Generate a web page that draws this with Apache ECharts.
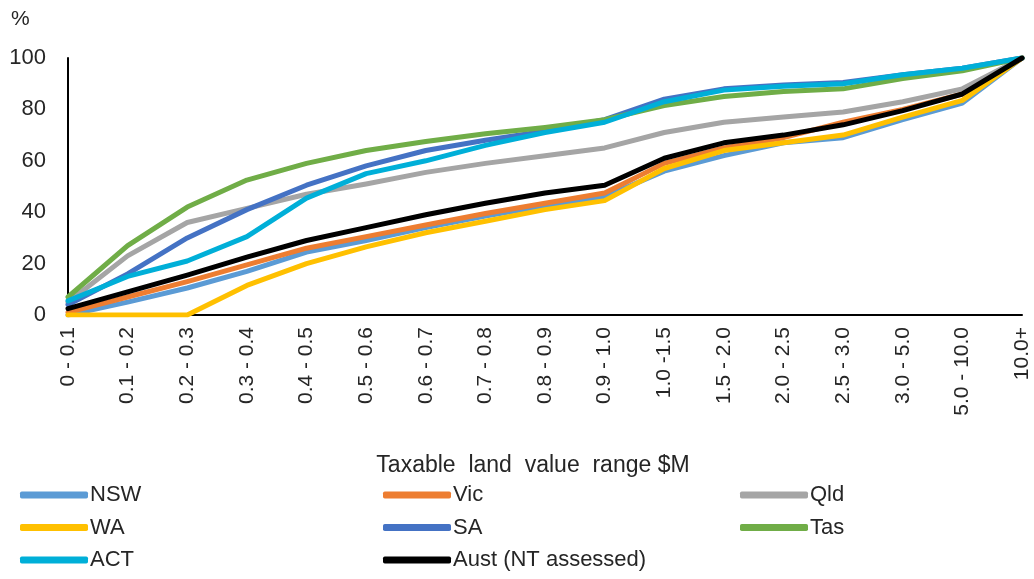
<!DOCTYPE html>
<html>
<head>
<meta charset="utf-8">
<script src="https://cdn.jsdelivr.net/npm/echarts@6/dist/echarts.min.js"></script>
<style>
  html, body { margin: 0; padding: 0; background: #fff; }
  #chart { width: 1034px; height: 579px; }
</style>
</head>
<body>
<div id="chart"></div>
<script>
// Cumulative share (%) of taxable land by land value range, per jurisdiction
const categories = ['0 - 0.1', '0.1 - 0.2', '0.2 - 0.3', '0.3 - 0.4', '0.4 - 0.5', '0.5 - 0.6',
  '0.6 - 0.7', '0.7 - 0.8', '0.8 - 0.9', '0.9 - 1.0', '1.0 -1.5', '1.5 - 2.0', '2.0 - 2.5',
  '2.5 - 3.0', '3.0 - 5.0', '5.0 - 10.0', '10.0+'];

const nsw  = [0, 5, 10.5, 17, 24.5, 29, 34, 38.5, 42.5, 46, 56, 62, 67, 69, 76, 82.5, 100];
const vic  = [1, 7, 13, 19.5, 26, 30.5, 35, 39.5, 43.5, 47.5, 59, 65, 69, 75, 80, 86, 100];
const qld  = [5, 23, 36, 41.5, 47, 51, 55.5, 59, 62, 65, 71, 75, 77, 79, 83, 88, 100];
const wa   = [0, 0, 0, 11.5, 20, 26.5, 32, 36.5, 41, 44.5, 57, 64, 67, 70, 77, 83.5, 100];
const sa   = [4, 16, 30, 41, 50.5, 58, 64, 68, 71.5, 76, 84, 88, 89.5, 90.5, 93.5, 96, 100];
const tas  = [7, 27, 42, 52.5, 59, 64, 67.5, 70.5, 73, 76, 81.5, 85, 87, 88, 92, 95, 100];
const act  = [5.5, 15, 21, 30.5, 45.5, 55, 60, 66, 71, 75, 83, 87.5, 89, 90, 93.5, 96, 100];
const aust = [2.5, 9, 15.5, 22.5, 29, 34, 39, 43.5, 47.5, 50.5, 61, 67, 70, 74, 79.5, 86, 100];

const yTicks = [0, 20, 40, 60, 80, 100];

const seriesDefs = [
  { name: 'NSW', data: nsw, color: '#5B9BD5' },
  { name: 'Vic', data: vic, color: '#ED7D31' },
  { name: 'Qld', data: qld, color: '#A5A5A5' },
  { name: 'WA', data: wa, color: '#FFC000' },
  { name: 'SA', data: sa, color: '#4472C4' },
  { name: 'Tas', data: tas, color: '#70AD47' },
  { name: 'ACT', data: act, color: '#00AFD8' },
  { name: 'Aust (NT assessed)', data: aust, color: '#000000' }
];

const font = '"Liberation Sans", Arial, sans-serif';
const textColor = '#262626';

function legendColumn(names, left) {
  return {
    orient: 'vertical',
    left: left,
    top: 484,
    data: names,
    icon: 'roundRect',
    itemWidth: 68,
    itemHeight: 7,
    itemGap: 10.5,
    padding: 0,
    selectedMode: false,
    textStyle: { fontFamily: font, fontSize: 22, color: textColor, padding: [0, 0, 0, -3], lineHeight: 22 }
  };
}

const chart = echarts.init(document.getElementById('chart'));
chart.setOption({
  animation: false,
  backgroundColor: '#fff',
  grid: { left: 68, right: 12, top: 58, bottom: 264, containLabel: false },
  graphic: [{
    type: 'text', left: 11, top: 9,
    style: { text: '%', fontFamily: font, fontSize: 21, fill: textColor }
  }],
  legend: [
    legendColumn(['NSW', 'WA', 'ACT'], 20),
    legendColumn(['Vic', 'SA', 'Aust (NT assessed)'], 383),
    legendColumn(['Qld', 'Tas'], 740)
  ],
  xAxis: {
    type: 'category',
    data: categories,
    boundaryGap: false,
    axisLine: { lineStyle: { color: '#000', width: 2 } },
    axisTick: { show: false },
    axisLabel: {
      rotate: 90, margin: 12, interval: 0,
      fontFamily: font, fontSize: 21, color: textColor
    },
    name: 'Taxable  land  value  range $M',
    nameLocation: 'middle',
    nameGap: 139,
    nameTextStyle: { fontFamily: font, fontSize: 23, color: textColor, padding: [0, 24, 0, 0] }
  },
  yAxis: {
    type: 'value',
    min: yTicks[0],
    max: yTicks[yTicks.length - 1],
    interval: yTicks[1] - yTicks[0],
    axisLine: { show: true, lineStyle: { color: '#000', width: 2 } },
    axisTick: { show: false },
    splitLine: { show: false },
    axisLabel: { margin: 22, fontFamily: font, fontSize: 22, color: textColor }
  },
  series: seriesDefs.map(s => ({
    name: s.name,
    type: 'line',
    data: s.data,
    symbol: 'none',
    color: s.color,
    lineStyle: { width: 5, color: s.color, cap: 'round', join: 'round' }
  }))
});
</script>
</body>
</html>
